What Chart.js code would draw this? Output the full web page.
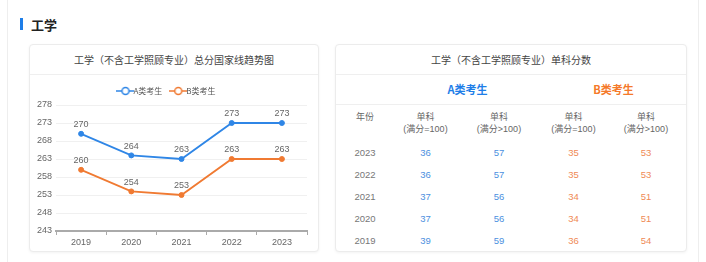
<!DOCTYPE html>
<html>
<head>
<meta charset="utf-8">
<script src="https://cdn.jsdelivr.net/npm/chart.js@4"></script>
<style>
  body { margin: 0; background: #fff; font-family: "Noto Sans CJK SC", "Liberation Sans", sans-serif; }
  #page { position: relative; width: 706px; height: 262px; overflow: hidden; }
  .vline { position: absolute; top: 0; bottom: 0; width: 1px; background: #eeeeee; }
  #mark { position: absolute; left: 20px; top: 18px; width: 3px; height: 12px; background: #1e7ee8; }
  #head { position: absolute; left: 31px; top: 15px; font-size: 13px; font-weight: bold; color: #222; }
  .card { position: absolute; top: 44px; height: 206px; border: 1px solid #ececec; border-radius: 4px;
          box-shadow: 0 1px 3px rgba(0,0,0,0.05); background: #fff; }
  .card .ttl { height: 29px; line-height: 29px; text-align: center; font-size: 10px; color: #444;
               border-bottom: 1px solid #efefef; }
  #left { left: 29px; width: 288px; }
  #right { left: 335px; width: 350px; }
  #chartBox { position: absolute; left: 0; top: 30px; width: 288px; height: 176px; }
  .cell { position: absolute; text-align: center; white-space: nowrap; font-weight: normal;
          font-family: "Liberation Sans", "Noto Sans CJK SC", sans-serif; font-size: 9.5px; }
  .grp { font-family: "Noto Sans CJK SC", sans-serif; font-size: 11px; font-weight: bold; }
  .hd { color: #666; font-size: 9px; line-height: 12px; }
  .hd .cjk { font-family: "Noto Sans CJK SC", sans-serif; }
  .sep { position: absolute; left: 0; width: 350px; height: 1px; background: #efefef; }
  .yr { color: #777; }
  .a { color: #4b8fe0; }
  .b { color: #ef8a55; }
</style>
</head>
<body>
<div id="page">
  <div class="vline" style="left:7px"></div>
  <div class="vline" style="left:698px"></div>
  <div id="mark"></div>
  <div id="head">工学</div>
  <div class="card" id="left">
    <div class="ttl">工学（不含工学照顾专业）总分国家线趋势图</div>
    <div id="chartBox"><canvas id="trend"></canvas></div>
  </div>
  <div class="card" id="right">
    <div class="ttl">工学（不含工学照顾专业）单科分数</div>
    <div id="scores"></div>
  </div>
</div>
<script>
const years = ["2019", "2020", "2021", "2022", "2023"];
const totalA = [270, 264, 263, 273, 273];
const totalB = [260, 254, 253, 263, 263];
const yTicks = [243, 248, 253, 258, 263, 268, 273, 278];

// single subject table (rows top to bottom)
const tableYears = ["2023", "2022", "2021", "2020", "2019"];
const aEq100 = [36, 36, 37, 37, 39];
const aGt100 = [57, 57, 56, 56, 59];
const bEq100 = [35, 35, 34, 34, 36];
const bGt100 = [53, 53, 51, 51, 54];

const blue = "#2f86e6";
const orange = "#f07a32";

// build table (positions relative to the card)
const colX = [0, 58, 121, 205, 270, 350];
function cell(c0, c1, top, h, cls, text) {
  return '<div class="cell ' + cls + '" style="left:' + colX[c0] + 'px;width:' + (colX[c1] - colX[c0]) +
    'px;top:' + top + 'px;height:' + h + 'px;line-height:' + h + 'px">' + text + '</div>';
}
let html = '';
html += cell(1, 3, 30, 29, 'grp', '<span style="color:#1e7ee8">A类考生</span>');
html += cell(3, 5, 30, 29, 'grp', '<span style="color:#f5792a">B类考生</span>');
html += '<div class="sep" style="top:59px"></div>';
html += cell(0, 1, 66, 12, 'hd cjk', '<span class="cjk">年份</span>');
const hdSub = ["(满分=100)", "(满分>100)", "(满分=100)", "(满分>100)"];
hdSub.forEach((s, i) => {
  html += '<div class="cell hd" style="left:' + colX[i + 1] + 'px;width:' + (colX[i + 2] - colX[i + 1]) +
    'px;top:66px;"><span class="cjk">单科</span><br>' + s.replace('>', '&gt;') + '</div>';
});
tableYears.forEach((y, i) => {
  const top = 97 + i * 22;
  html += cell(0, 1, top, 22, 'yr', y);
  html += cell(1, 2, top, 22, 'a', aEq100[i]);
  html += cell(2, 3, top, 22, 'a', aGt100[i]);
  html += cell(3, 4, top, 22, 'b', bEq100[i]);
  html += cell(4, 5, top, 22, 'b', bGt100[i]);
});
document.getElementById("scores").innerHTML = html;

// legend icon: line with hollow circle
function legendIcon(color) {
  const c = document.createElement("canvas");
  c.width = 18; c.height = 10;
  const g = c.getContext("2d");
  g.strokeStyle = color; g.lineWidth = 1.5;
  g.beginPath(); g.moveTo(0, 5); g.lineTo(18, 5); g.stroke();
  g.fillStyle = "#fff";
  g.beginPath(); g.arc(9, 5, 3.5, 0, Math.PI * 2); g.fill(); g.stroke();
  return c;
}

// value labels above points
const valueLabels = {
  id: "valueLabels",
  afterDatasetsDraw(chart) {
    const ctx = chart.ctx;
    ctx.save();
    ctx.font = "9px 'Liberation Sans', sans-serif";
    ctx.fillStyle = "#666";
    ctx.textAlign = "center";
    ctx.textBaseline = "middle";
    chart.data.datasets.forEach((ds, di) => {
      chart.getDatasetMeta(di).data.forEach((pt, i) => {
        ctx.fillText(ds.data[i], pt.x, pt.y - 9);
      });
    });
    ctx.restore();
  }
};

const ctx = document.getElementById("trend").getContext("2d");
new Chart(ctx, {
  type: "line",
  data: {
    labels: years,
    datasets: [
      { label: "A类考生", data: totalA, borderColor: blue, backgroundColor: blue,
        borderWidth: 1.8, pointRadius: 2.5, pointBorderWidth: 1, tension: 0 },
      { label: "B类考生", data: totalB, borderColor: orange, backgroundColor: orange,
        borderWidth: 1.8, pointRadius: 2.5, pointBorderWidth: 1, tension: 0 }
    ]
  },
  options: {
    responsive: true,
    maintainAspectRatio: false,
    animation: false,
    layout: { padding: { left: 0, right: 11, top: 0, bottom: 0 } },
    plugins: {
      legend: {
        display: true,
        labels: {
          usePointStyle: true,
          font: { size: 8, family: "'Noto Sans CJK SC', sans-serif" },
          color: "#555",
          padding: 12,
          boxHeight: 8,
          generateLabels(chart) {
            return chart.data.datasets.map((ds, i) => ({
              text: ds.label,
              pointStyle: legendIcon(ds.borderColor),
              fontColor: "#555",
              hidden: false,
              datasetIndex: i,
              lineWidth: 0
            }));
          }
        }
      },
      tooltip: { enabled: false }
    },
    scales: {
      x: {
        offset: true,
        afterFit(s) { s.height = 20; },
        grid: { drawOnChartArea: false, drawTicks: true, tickLength: 4, offset: true, color: "#aaa" },
        border: { color: "#aaa", width: 2 },
        ticks: { color: "#666", font: { size: 9, family: "'Liberation Sans', sans-serif" }, padding: 2 }
      },
      y: {
        min: 243,
        max: 278,
        afterFit(s) { s.width = 26; },
        afterBuildTicks(s) { s.ticks = yTicks.map(v => ({ value: v })); },
        grid: { color: "#f0f0f0", drawTicks: false },
        border: { display: false },
        ticks: { color: "#666", font: { size: 9, family: "'Liberation Sans', sans-serif" }, padding: 4 }
      }
    }
  },
  plugins: [valueLabels]
});
</script>
</body>
</html>
